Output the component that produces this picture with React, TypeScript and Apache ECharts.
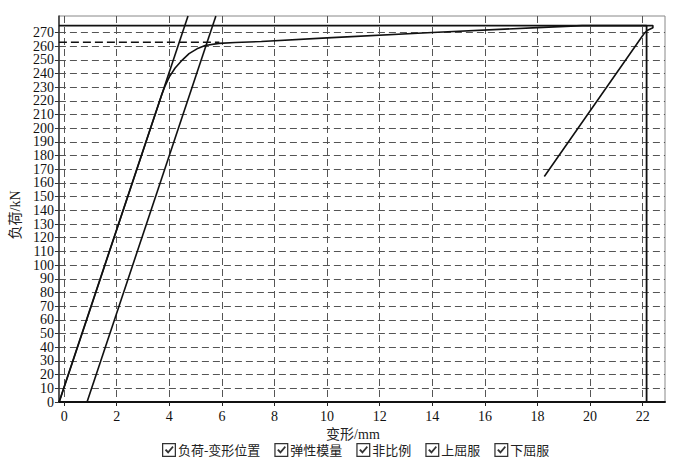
import React, { useEffect, useRef } from "react";
import * as echarts from "echarts";

const xTicks = [0, 2, 4, 6, 8, 10, 12, 14, 16, 18, 20, 22];
const yTicks = [0, 10, 20, 30, 40, 50, 60, 70, 80, 90, 100, 110, 120, 130, 140, 150, 160, 170, 180, 190, 200, 210, 220, 230, 240, 250, 260, 270];
const yLabelsEven = [0, 20, 40, 60, 80, 100, 120, 140, 160, 180, 200, 220, 240, 260];
const yLabelsOdd = [10, 30, 50, 70, 90, 110, 130, 150, 170, 190, 210, 230, 250, 270];

const seriesNames = ["负荷-变形位置", "弹性模量", "非比例", "上屈服", "下屈服"];

// 负荷-变形位置 (mm, kN)
const loadCurve: [number, number][] = [
  [-0.19, 0], [3.7, 224], [3.84, 231], [4.0, 237.5], [4.22, 244], [4.5, 250],
  [4.75, 254.5], [5.05, 258], [5.36, 260.4], [5.89, 262], [6.5, 262.6],
  [7.5, 263.4], [10, 266], [14, 270], [18, 273.5], [19.7, 275], [22.39, 275],
  [22.39, 273.4], [22.17, 271.4], [22.05, 269], [18.26, 164.8],
];
// 弹性模量
const elasticLine: [number, number][] = [[-0.19, 0], [4.71, 282]];
// 非比例
const offsetLine: [number, number][] = [[0.87, 0], [5.77, 282]];
// 上屈服
const upperYield: [number, number][] = [[-0.2, 275], [22.15, 275], [22.15, 0]];
// 下屈服
const lowerYield: [number, number][] = [[-0.2, 262.8], [5.9, 262.8]];

const checkIcon =
  "path://M0 0H100V100H0Z M9 9V91H91V9Z M20 52L30 43L44 58L74 22L83 30L44 76Z";

const serif = "'Liberation Serif', 'Noto Sans CJK SC', serif";

export default function App() {
  const ref = useRef<HTMLDivElement>(null);
  useEffect(() => {
    if (!ref.current) return;
    const chart = echarts.init(ref.current, undefined, { renderer: "svg" });
    const lineBase = (name: string, data: [number, number][], extra: any = {}) => ({
      name,
      type: "line",
      data,
      yAxisIndex: 0,
      showSymbol: false,
      symbol: "none",
      lineStyle: { color: "#111", width: 1.6, ...(extra.lineStyle || {}) },
      itemStyle: { color: "#333" },
      z: 5,
    });
    const yLabelStyle = {
      fontFamily: serif,
      fontSize: 14,
      color: "#111",
      margin: 5,
      showMinLabel: true,
      showMaxLabel: true,
    };
    chart.setOption({
      animation: false,
      backgroundColor: "#fff",
      grid: {
        left: 57,
        right: 18,
        top: 16,
        bottom: 63,
        show: true,
        borderColor: "#888",
        borderWidth: 1,
        containLabel: false,
      },
      legend: {
        data: seriesNames,
        top: 438,
        left: 157,
        itemWidth: 14,
        itemHeight: 17,
        itemGap: 14,
        icon: checkIcon,
        itemStyle: { color: "#333" },
        lineStyle: { opacity: 0, width: 0 },
        textStyle: { fontFamily: serif, fontSize: 13, color: "#222", padding: [0, 0, 0, -3] },
        selectedMode: false,
      },
      xAxis: {
        type: "value",
        min: -0.2,
        max: 22.85,
        name: "变形/mm",
        nameLocation: "middle",
        nameGap: 23,
        nameTextStyle: { fontFamily: serif, fontSize: 14, color: "#222", padding: [0, 18, 0, 0] },
        axisLine: { show: true, onZero: false, lineStyle: { color: "#111", width: 2 } },
        axisTick: { show: true, length: 4, customValues: xTicks, lineStyle: { color: "#222" } },
        axisLabel: {
          customValues: xTicks,
          fontFamily: serif,
          fontSize: 14,
          color: "#111",
          margin: 7,
          showMinLabel: true,
          showMaxLabel: true,
        },
        splitLine: { show: true, lineStyle: { color: "#555", type: [7, 4], width: 1 } },
      },
      yAxis: [
        {
          type: "value",
          position: "left",
          offset: 0,
          min: 0,
          max: 282,
          interval: 10,
          name: "负荷/kN",
          nameLocation: "middle",
          nameGap: 36,
          nameTextStyle: { fontFamily: serif, fontSize: 14, color: "#222", padding: [0, 12, 0, 0] },
          axisLine: { show: true, onZero: false, lineStyle: { color: "#333", width: 1.5 } },
          axisTick: { show: true, length: 4, customValues: yTicks, lineStyle: { color: "#333" } },
          axisLabel: { ...yLabelStyle, customValues: yLabelsEven },
          splitLine: { show: true, lineStyle: { color: "#555", type: [7, 4], width: 1 } },
        },
        {
          type: "value",
          position: "left",
          offset: 0,
          min: 0,
          max: 282,
          interval: 10,
          axisLine: { show: false },
          axisTick: { show: false },
          axisLabel: { ...yLabelStyle, customValues: yLabelsOdd },
          splitLine: { show: false },
        },
      ],
      series: [
        lineBase(seriesNames[0], loadCurve),
        lineBase(seriesNames[1], elasticLine),
        lineBase(seriesNames[2], offsetLine),
        lineBase(seriesNames[3], upperYield, { lineStyle: { width: 1.8 } }),
        lineBase(seriesNames[4], lowerYield, { lineStyle: { type: [8, 4], width: 1.6 } }),
      ],
    });
    return () => chart.dispose();
  }, []);
  return (
    <div
      ref={ref}
      style={{ position: "absolute", left: 0, top: 0, width: 683, height: 465 }}
    />
  );
}
